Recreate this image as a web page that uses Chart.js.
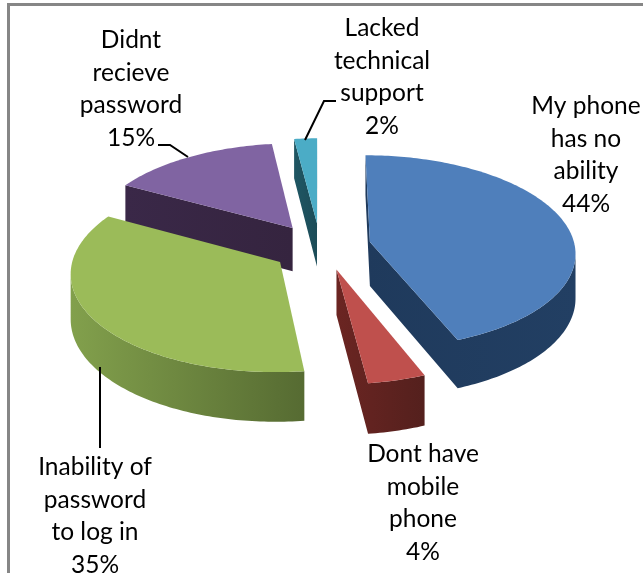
<!DOCTYPE html>
<html>
<head>
<meta charset="utf-8">
<style>
  html, body { margin: 0; padding: 0; background: #fff; }
  #wrap { width: 643px; height: 573px; }
</style>
</head>
<body>
<div id="wrap"><canvas id="chart" width="643" height="573"></canvas></div>
<script src="https://cdn.jsdelivr.net/npm/chart.js@4/dist/chart.umd.min.js"></script>
<script>
const categories = ['My phone has no ability', 'Dont have mobile phone', 'Inability of password to log in', 'Didnt recieve password', 'Lacked technical support'];
const shares = [44, 4, 35, 15, 2];
const labelLines = [
  ['My phone', 'has no', 'ability'],
  ['Dont have', 'mobile', 'phone'],
  ['Inability of', 'password', 'to log in'],
  ['Didnt', 'recieve', 'password'],
  ['Lacked', 'technical', 'support'],
];

const topColors = ['#4f7fbb', '#bf504d', '#9bbb59', '#8064a2', '#4bacc6'];
const wallColors = [
  ['#1f3a5c', '#223f63'],
  ['#6b2522', '#54201d'],
  ['#82a04c', '#566b32'],
  ['#3a2848', '#35243f'],
  ['#1f5663', '#1c4c58'],
];
const explode = [50, 68, 50, 46, 33];
// Excel's exploded slices don't sit exactly on their mid-angle, small screen shifts.
const nudgeX = [3, 1, 4, 0, 1];
const nudgeY = [8, -1, 10, 7, 0];
const labelX = [586, 423, 95, 131, 382];
const labelTop = [106, 454, 467, 40, 28];
const leaders = [
  [],
  [],
  [[100, 367], [100, 448]],
  [[158, 145], [170, 145], [188, 157]],
  [[336, 101], [324, 101], [305, 140]],
];
const drawOrder = [4, 3, 0, 2, 1];

const tilt = 0.47;
const perspective = 0.1;
const wallDepth = 44;
const lineGap = 32.6;

const drawSlice = (ctx, arc, walls, shiftX, shiftY) => {
  const { startAngle, endAngle, outerRadius } = arc.getProps(['startAngle', 'endAngle', 'outerRadius'], true);
  const project = (px, py, drop) => {
    const s = 1 / (1 - (perspective * py) / outerRadius);
    return [arc.x + shiftX + px * s, arc.y + shiftY + py * tilt * s + drop * s];
  };
  const mid = (startAngle + endAngle) / 2;
  const ox = Math.cos(mid) * arc.options.offset;
  const oy = Math.sin(mid) * arc.options.offset;

  const outline = [[ox, oy]];
  const steps = Math.ceil(((endAngle - startAngle) * 180) / Math.PI);
  for (let i = 0; i <= steps; i++) {
    const a = startAngle + ((endAngle - startAngle) * i) / steps;
    outline.push([ox + Math.cos(a) * outerRadius, oy + Math.sin(a) * outerRadius]);
  }

  const xs = outline.map((p) => project(p[0], p[1], 0)[0]);
  const gradient = ctx.createLinearGradient(Math.min(...xs), 0, Math.max(...xs), 0);
  gradient.addColorStop(0, walls[0]);
  gradient.addColorStop(1, walls[1]);

  // One path for all the camera-facing side quads, so no seams between them.
  ctx.beginPath();
  outline.forEach((point, i) => {
    const next = outline[(i + 1) % outline.length];
    const a = project(point[0], point[1], 0);
    const b = project(next[0], next[1], 0);
    const c = project(next[0], next[1], wallDepth);
    const d = project(point[0], point[1], wallDepth);
    const area = (b[0] - a[0]) * (d[1] - a[1]) - (b[1] - a[1]) * (d[0] - a[0]);
    if (area >= 0) return;
    ctx.moveTo(a[0], a[1]);
    ctx.lineTo(b[0], b[1]);
    ctx.lineTo(c[0], c[1]);
    ctx.lineTo(d[0], d[1]);
    ctx.closePath();
  });
  ctx.fillStyle = gradient;
  ctx.fill();

  ctx.beginPath();
  outline.forEach((point) => {
    const p = project(point[0], point[1], 0);
    ctx.lineTo(p[0], p[1]);
  });
  ctx.closePath();
  ctx.fillStyle = arc.options.backgroundColor;
  ctx.fill();
};

const tiltedPiePlugin = {
  id: 'tiltedPie',
  beforeDraw: (chart) => {
    const { ctx } = chart;
    ctx.save();
    ctx.strokeStyle = '#868686';
    ctx.lineWidth = 3;
    ctx.beginPath();
    ctx.moveTo(8.5, 573);
    ctx.lineTo(8.5, 4.5);
    ctx.lineTo(643, 4.5);
    ctx.stroke();
    ctx.restore();
  },
  beforeDatasetsDraw: (chart) => {
    const { ctx } = chart;
    const meta = chart.getDatasetMeta(0);
    ctx.save();
    drawOrder.forEach((i) => drawSlice(ctx, meta.data[i], wallColors[i], nudgeX[i], nudgeY[i]));
    ctx.restore();
    return false;
  },
  afterDraw: (chart) => {
    const { ctx } = chart;
    ctx.save();
    ctx.strokeStyle = '#000';
    ctx.lineWidth = 2;
    leaders.forEach((path) => {
      ctx.beginPath();
      path.forEach((p) => ctx.lineTo(p[0], p[1]));
      ctx.stroke();
    });
    ctx.fillStyle = '#000';
    ctx.font = '24.5px Lato';
    ctx.textAlign = 'center';
    ctx.textBaseline = 'middle';
    categories.forEach((_name, i) => {
      const lines = [...labelLines[i], `${shares[i]}%`];
      lines.forEach((line, n) => ctx.fillText(line, labelX[i], labelTop[i] + n * lineGap));
    });
    ctx.restore();
  },
};

new Chart(document.getElementById('chart'), {
  type: 'pie',
  data: {
    labels: categories,
    datasets: [{ data: shares, backgroundColor: topColors, offset: explode, borderWidth: 0 }],
  },
  options: {
    responsive: false,
    animation: false,
    radius: 205,
    layout: { padding: { right: 7, bottom: 96 } },
    plugins: { legend: { display: false }, tooltip: { enabled: false } },
  },
  plugins: [tiltedPiePlugin],
});
</script>
</body>
</html>
